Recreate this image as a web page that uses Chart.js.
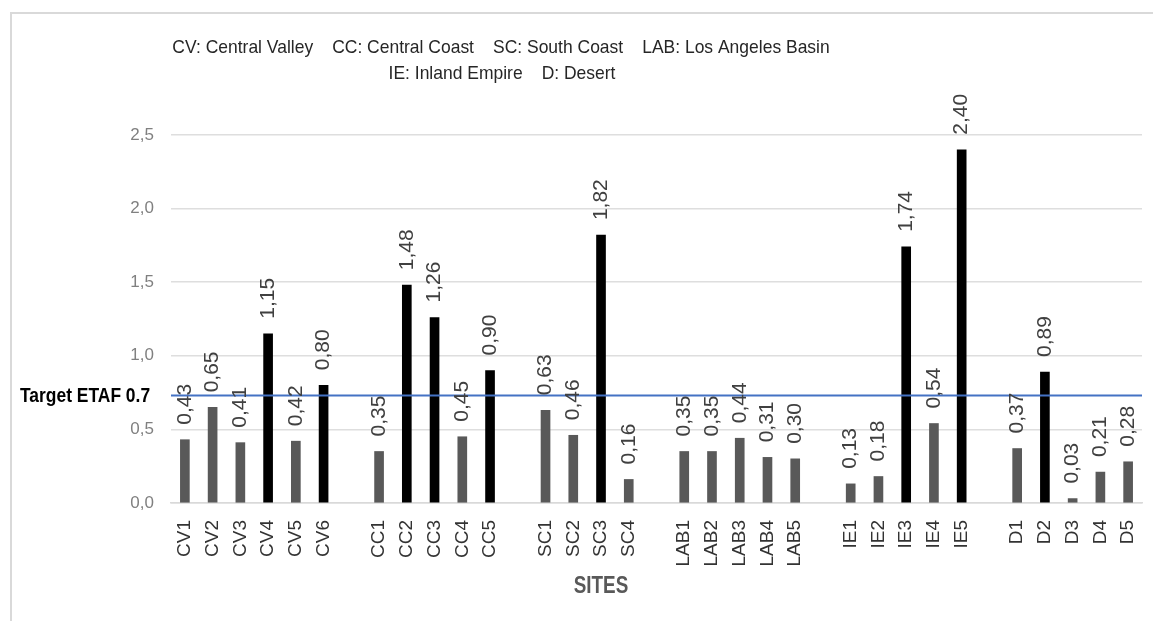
<!DOCTYPE html>
<html>
<head>
<meta charset="utf-8">
<script src="https://cdn.jsdelivr.net/npm/chart.js@4.4.1/dist/chart.umd.min.js"></script>
<style>
  html, body { margin: 0; padding: 0; background: #fff; overflow: hidden; }
  #wrap { position: relative; width: 1153px; height: 621px; }
  #frame { position: absolute; left: 10px; top: 12px; width: 1200px; height: 700px;
           border-left: 2px solid #d9d9d9; border-top: 2px solid #d9d9d9; pointer-events: none; }
  canvas { position: absolute; left: 0; top: 0; }
</style>
</head>
<body>
<div id="wrap">
  <canvas id="etafChart" width="1153" height="621"></canvas>
  <div id="frame"></div>
</div>
<script>
// sites and ETAF values per region
const cvSites = ['CV1', 'CV2', 'CV3', 'CV4', 'CV5', 'CV6'];
const cvValues = [0.43, 0.65, 0.41, 1.15, 0.42, 0.80];
const ccSites = ['CC1', 'CC2', 'CC3', 'CC4', 'CC5'];
const ccValues = [0.35, 1.48, 1.26, 0.45, 0.90];
const scSites = ['SC1', 'SC2', 'SC3', 'SC4'];
const scValues = [0.63, 0.46, 1.82, 0.16];
const labSites = ['LAB1', 'LAB2', 'LAB3', 'LAB4', 'LAB5'];
const labValues = [0.35, 0.35, 0.44, 0.31, 0.30];
const ieSites = ['IE1', 'IE2', 'IE3', 'IE4', 'IE5'];
const ieValues = [0.13, 0.18, 1.74, 0.54, 2.40];
const dSites = ['D1', 'D2', 'D3', 'D4', 'D5'];
const dValues = [0.37, 0.89, 0.03, 0.21, 0.28];

const regionKeyLine1 = ['CV: Central Valley', 'CC: Central Coast', 'SC: South Coast', 'LAB: Los Angeles Basin'];
const regionKeyLine2 = ['IE: Inland Empire', 'D: Desert'];
const targetEtaf = 0.73;
const targetLabel = 'Target ETAF 0.7';
const axisTitle = 'SITES';
const yMin = 0, yMax = 2.5, yStep = 0.5;

const FONT = "'Liberation Sans', Arial, sans-serif";

// join the groups with an empty slot between them
const groups = [[cvSites, cvValues], [ccSites, ccValues], [scSites, scValues],
                [labSites, labValues], [ieSites, ieValues], [dSites, dValues]];
const labels = [];
const values = [];
groups.forEach(([sites, vals], i) => {
  if (i > 0) { labels.push(''); values.push(null); }
  sites.forEach((s, j) => { labels.push(s); values.push(vals[j]); });
});
const barColors = values.map(v => (v !== null && v > targetEtaf) ? '#000000' : '#595959');

const fmt = v => v.toFixed(2).replace('.', ',');

// no narrow face is installed, so squeeze the regular one horizontally
function narrowText(ctx, text, x, y, sx) {
  ctx.save();
  ctx.translate(x, y);
  ctx.scale(sx, 1);
  ctx.fillText(text, 0, 0);
  ctx.restore();
}

const targetLine = {
  id: 'targetLine',
  afterDatasetsDraw(chart) {
    const { ctx, chartArea, scales } = chart;
    const y = scales.y.getPixelForValue(targetEtaf);
    ctx.save();
    ctx.strokeStyle = '#4472C4';
    ctx.lineWidth = 2;
    ctx.beginPath();
    ctx.moveTo(chartArea.left, y);
    ctx.lineTo(chartArea.right, y);
    ctx.stroke();

    ctx.fillStyle = '#000000';
    ctx.font = `bold 21px ${FONT}`;
    ctx.textAlign = 'left';
    ctx.textBaseline = 'middle';
    narrowText(ctx, targetLabel, 20, y + 1, 0.83);
    ctx.restore();
  }
};

const valueLabels = {
  id: 'valueLabels',
  afterDatasetsDraw(chart) {
    const { ctx } = chart;
    const meta = chart.getDatasetMeta(0);
    ctx.save();
    ctx.fillStyle = '#404040';
    ctx.font = `21px ${FONT}`;
    ctx.textAlign = 'left';
    ctx.textBaseline = 'middle';
    meta.data.forEach((bar, i) => {
      if (values[i] === null) return;
      ctx.save();
      ctx.translate(bar.x, bar.y - 15);
      ctx.rotate(-Math.PI / 2);
      ctx.fillText(fmt(values[i]), 0, 0);
      ctx.restore();
    });
    ctx.restore();
  }
};

function drawKeyLine(ctx, items, centerX, baseline, gap, sx) {
  const widths = items.map(t => ctx.measureText(t).width * sx);
  const total = widths.reduce((a, b) => a + b, 0) + gap * (items.length - 1);
  let x = centerX - total / 2;
  items.forEach((t, i) => {
    narrowText(ctx, t, x, baseline, sx);
    x += widths[i] + gap;
  });
}

const extraText = {
  id: 'extraText',
  afterDraw(chart) {
    const { ctx } = chart;
    ctx.save();
    ctx.fillStyle = '#262626';
    ctx.font = `19px ${FONT}`;
    ctx.textAlign = 'left';
    ctx.textBaseline = 'alphabetic';
    drawKeyLine(ctx, regionKeyLine1, 501, 53, 19, 0.92);
    drawKeyLine(ctx, regionKeyLine2, 502, 79, 19, 0.92);

    ctx.fillStyle = '#595959';
    ctx.font = `bold 23px ${FONT}`;
    ctx.textAlign = 'center';
    ctx.textBaseline = 'middle';
    narrowText(ctx, axisTitle, 601, 587, 0.82);
    ctx.restore();
  }
};

new Chart(document.getElementById('etafChart'), {
  type: 'bar',
  data: {
    labels,
    datasets: [{
      data: values,
      backgroundColor: barColors,
      barThickness: 9
    }]
  },
  options: {
    responsive: false,
    animation: false,
    layout: { padding: { top: 135, right: 11, left: 0, bottom: 0 } },
    plugins: {
      legend: { display: false },
      title: { display: false },
      tooltip: { enabled: false }
    },
    scales: {
      x: {
        grid: { display: false, drawTicks: false },
        border: { display: true, color: '#d9d9d9', width: 1.5 },
        ticks: {
          autoSkip: false,
          minRotation: 90,
          maxRotation: 90,
          padding: 17,
          color: '#333333',
          font: { family: FONT, size: 19 }
        },
        afterFit(scale) {
          scale.height = 118;
          scale.paddingLeft = 0;
          scale.paddingRight = 0;
        }
      },
      y: {
        min: yMin,
        max: yMax,
        grid: { color: '#dedede', lineWidth: 1.5, drawTicks: false },
        border: { display: false },
        ticks: {
          stepSize: yStep,
          padding: 17,
          color: '#808080',
          font: { family: FONT, size: 17 },
          callback: v => v.toFixed(1).replace('.', ',')
        },
        afterFit(scale) { scale.width = 171; }
      }
    }
  },
  plugins: [targetLine, valueLabels, extraText]
});
</script>
</body>
</html>
